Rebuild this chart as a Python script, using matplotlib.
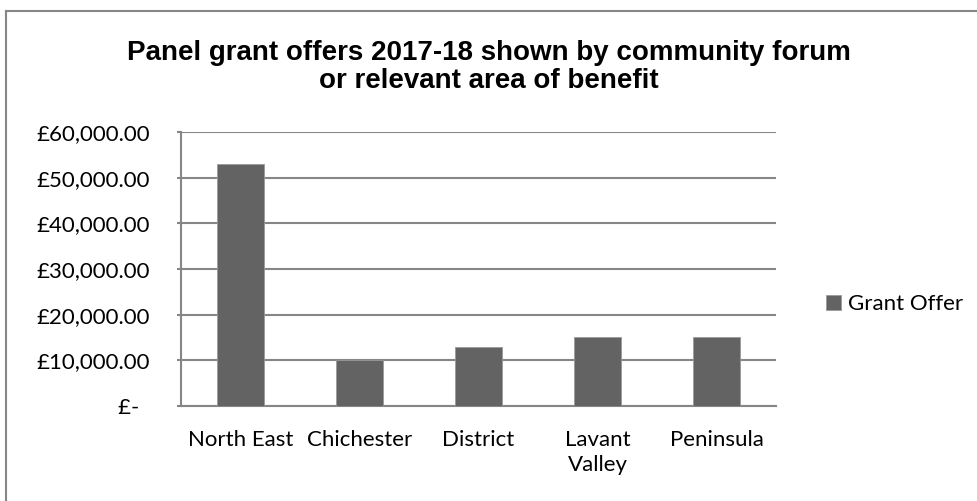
import matplotlib
matplotlib.use("Agg")
from matplotlib import pyplot as plt
from matplotlib.lines import Line2D
import numpy as np

# данные с картинки
forums = ['North East', 'Chichester', 'District', 'Lavant\nValley', 'Peninsula']
offers = [52900, 10000, 13000, 15000, 15000]
yticks = [0, 10000, 20000, 30000, 40000, 50000, 60000]
ylabels = ['£-  ', '£10,000.00', '£20,000.00', '£30,000.00',
           '£40,000.00', '£50,000.00', '£60,000.00']

grey = '#868686'
bar_col = '#636363'
fs = 16

fig = plt.figure(figsize=(9.78, 5.01), dpi=100)
ax = fig.add_axes([0.185, 0.1896, 0.6084, 0.547])

x = np.arange(len(forums))
ax.bar(x, offers, width=0.4, color=bar_col, edgecolor='#9a9a9a',
       linewidth=0.6, zorder=3, label='Grant Offer')

ax.set_xlim(-0.5, len(forums) - 0.5)
ax.set_ylim(0, 60000)
ax.set_yticks(yticks)
ax.set_yticklabels(ylabels, family='Lato', fontsize=fs)
ax.set_xticks(x)
ax.set_xticklabels(forums, family='Lato', fontsize=fs, linespacing=1.35,
                   va='top')

ax.yaxis.grid(True, color=grey, linewidth=1.5, zorder=0)
for s in ['top', 'right']:
    ax.spines[s].set_visible(False)
for s in ['left', 'bottom']:
    ax.spines[s].set_color(grey)
    ax.spines[s].set_linewidth(1.5)
ax.tick_params(axis='y', length=3, width=1.5, color=grey, pad=19)
ax.tick_params(axis='x', length=0, pad=17)

# заголовок
fig.text(0.5, 0.866, 'Panel grant offers 2017-18 shown by community forum\n'
         'or relevant area of benefit', ha='center', va='center',
         family='Liberation Sans', weight='bold', fontsize=20,
         linespacing=1.1)

# легенда
fig.legend(loc='center left', bbox_to_anchor=(0.824, 0.393), frameon=False,
           prop={'family': 'Lato', 'size': fs}, handlelength=0.7,
           handleheight=0.7, handletextpad=0.3)

# рамка (видны только верх и левый край)
top = 1 - 11 / 501
left = 6.5 / 978
fig.lines.append(Line2D([left, 1], [top, top], transform=fig.transFigure,
                        color=grey, linewidth=1.5))
fig.lines.append(Line2D([left, left], [0, top], transform=fig.transFigure,
                        color=grey, linewidth=1.5))

fig.savefig('out.png', dpi=100)
